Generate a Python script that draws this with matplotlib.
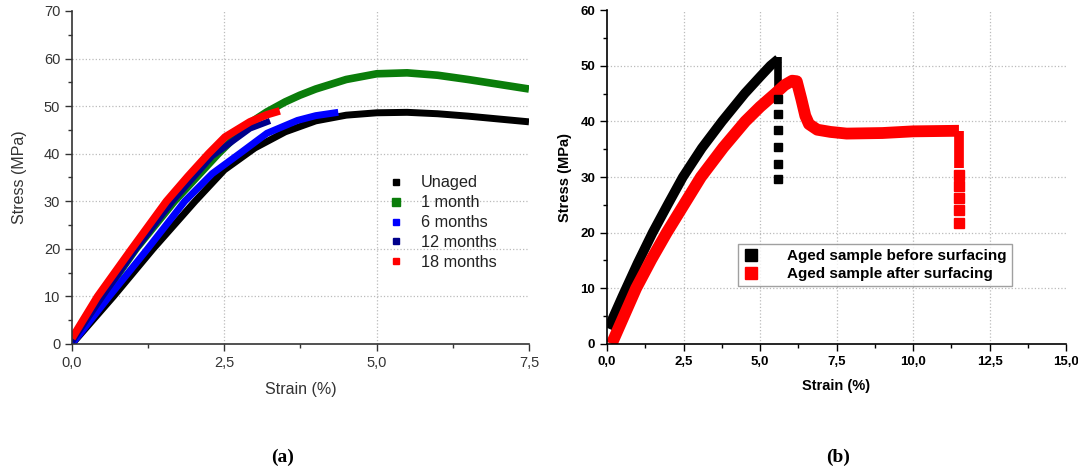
import matplotlib
matplotlib.use('Agg')
import matplotlib.pyplot as pyplot
from matplotlib.lines import Line2D
from matplotlib.ticker import MultipleLocator, FuncFormatter

pyplot.rcParams['font.family'] = ['Liberation Sans', 'DejaVu Sans']

# ---- panel (a): stress-strain curves at different ageing times
unaged_x = [0, 0.68, 1.33, 2.02, 2.5, 3.0, 3.5, 4.0, 4.5, 5.0, 5.5, 6.0, 6.5, 7.0, 7.5]
unaged_y = [0, 10, 20, 30, 36.6, 41.2, 44.6, 46.9, 48.1, 48.6, 48.7, 48.4, 47.9, 47.3, 46.7]

month1_x = [0, 0.5, 1.05, 1.68, 2.4, 2.9, 3.2, 3.5, 3.74, 4.0, 4.5, 5.0, 5.5, 6.0, 6.5, 7.0, 7.5]
month1_y = [0.5, 10, 20, 30, 40, 46.3, 48.8, 50.9, 52.3, 53.6, 55.6, 56.8, 57.0, 56.5, 55.6, 54.6, 53.6]

month6_x = [0, 0.61, 1.24, 1.85, 2.3, 2.78, 3.2, 3.7, 4.0, 4.37]
month6_y = [0, 10, 20, 30, 35.8, 40.3, 44.3, 47.0, 48.0, 48.7]

month12_x = [0, 0.5, 1.05, 1.65, 2.3, 2.92, 3.25]
month12_y = [0.5, 10, 20, 30, 39.5, 45.3, 46.9]

month18_x = [0, 0.42, 0.98, 1.55, 1.9, 2.24, 2.51, 2.92, 3.2, 3.41]
month18_y = [1.2, 10, 20, 30, 35.2, 40, 43.5, 46.7, 48.2, 49.0]

labels_a = ['Unaged', '1 month', '6 months', '12 months', '18 months']
colors_a = ['black', '#0a7d0a', '#0000ff', '#00008b', '#ff0000']

# ---- panel (b): aged sample before / after surfacing
before_x = [0.04, 0.5, 1.0, 1.49, 2.0, 2.48, 3.1, 3.76, 4.5, 5.0, 5.34, 5.6]
before_y = [2.8, 8.5, 14.5, 20, 25.2, 30, 35.2, 40, 45.0, 48.0, 50, 51.2]
before_drop_y = [51.6, 49.5, 47.5, 45.6]
before_sq_y = [44.1, 41.4, 38.4, 35.4, 32.4, 29.6]
before_sq_x = 5.6

after_x = [0.15, 0.55, 0.95, 1.45, 1.95, 3.07, 3.8, 4.52, 5.0, 5.5, 5.8, 6.05, 6.2, 6.35,
           6.48, 6.6, 6.87, 7.3, 7.83, 9.0, 10.0, 11.43, 11.5]
after_y = [0, 5, 10, 15.2, 20, 30, 35.3, 40, 42.6, 45.0, 46.5, 47.3, 47.2, 44.0,
           41.0, 39.5, 38.5, 38.1, 37.8, 37.9, 38.2, 38.3, 38.3]
after_drop_y = [38.3, 35.0, 31.6]
after_sq_y = [30.3, 28.4, 26.2, 24.1, 21.8]
after_sq_x = 11.5

labels_b = ['Aged sample before surfacing', 'Aged sample after surfacing']

xticks_a = [0, 2.5, 5.0, 7.5]
yticks_a = [0, 10, 20, 30, 40, 50, 60, 70]
xticks_b = [0, 2.5, 5.0, 7.5, 10.0, 12.5, 15.0]
yticks_b = [0, 10, 20, 30, 40, 50, 60]


def comma_fmt(v, pos):
    return f"{v:.1f}".replace('.', ',')


def style_axes(ax, xt, yt, col):
    ax.set_xlim(xt[0], xt[-1])
    ax.set_ylim(yt[0], yt[-1])
    ax.set_xticks(xt)
    ax.set_yticks(yt)
    ax.xaxis.set_minor_locator(MultipleLocator((xt[1] - xt[0]) / 2))
    ax.yaxis.set_minor_locator(MultipleLocator((yt[1] - yt[0]) / 2))
    ax.xaxis.set_major_formatter(FuncFormatter(comma_fmt))
    for s in ['top', 'right']:
        ax.spines[s].set_visible(False)
    for s in ['left', 'bottom']:
        ax.spines[s].set_color(col)
        ax.spines[s].set_linewidth(1.2)
    ax.tick_params(which='major', direction='out', length=5, width=1.0, colors=col)
    ax.tick_params(which='minor', direction='out', length=3, width=1.0, colors=col)
    # dotted grid, only inside the frame (no line on the top / right edge)
    for v in xt[1:-1]:
        ax.axvline(v, ls=':', color='#bbbbbb', lw=0.9, zorder=0)
    for v in yt[1:-1]:
        ax.axhline(v, ls=':', color='#bbbbbb', lw=0.9, zorder=0)


def main():
    fig = pyplot.figure(figsize=(10.78, 4.72), dpi=100)

    # ---------------- (a)
    ax = fig.add_axes([0.0668, 0.2712, 0.4239, 0.7055])
    style_axes(ax, xticks_a, yticks_a, '#333333')
    curves = [(unaged_x, unaged_y, 5.0), (month1_x, month1_y, 5.5),
              (month6_x, month6_y, 5.0), (month12_x, month12_y, 4.5),
              (month18_x, month18_y, 5.5)]
    for (x, y, lw), c in zip(curves, colors_a):
        ax.plot(x, y, color=c, lw=lw, solid_capstyle='butt', solid_joinstyle='round')
    for lab in ax.get_xticklabels() + ax.get_yticklabels():
        lab.set_fontsize(10.5)
        lab.set_color('#333333')
    ax.set_xlabel('Strain (%)', fontsize=11.5, color='#333333', labelpad=9)
    ax.set_ylabel('Stress (MPa)', fontsize=11.5, color='#333333', labelpad=12)
    msize = [4, 6, 4, 4, 4]
    handles = [Line2D([], [], ls='none', marker='s', color=c, markersize=m)
               for c, m in zip(colors_a, msize)]
    ax.legend(handles, labels_a, loc='upper left', bbox_to_anchor=(0.66, 0.55),
              frameon=False, fontsize=11.7, handlelength=1.0, handletextpad=1.0,
              labelspacing=0.3, labelcolor='#222222')

    # ---------------- (b)
    ax2 = fig.add_axes([0.5631, 0.2712, 0.4258, 0.7076])
    style_axes(ax2, xticks_b, yticks_b, 'black')
    ax2.plot(before_x, before_y, color='black', lw=7.0, solid_capstyle='butt',
             solid_joinstyle='round')
    ax2.plot([before_sq_x] * len(before_drop_y), before_drop_y, color='black', lw=5.5,
             solid_capstyle='butt')
    ax2.plot(after_x, after_y, color='#ff0000', lw=8.5, solid_capstyle='butt',
             solid_joinstyle='round')
    ax2.plot([after_sq_x] * len(after_drop_y), after_drop_y, color='#ff0000', lw=7.0,
             solid_capstyle='butt')
    ax2.plot([before_sq_x] * len(before_sq_y), before_sq_y, ls='none', marker='s',
             color='black', markersize=5.5)
    ax2.plot([after_sq_x] * len(after_sq_y), after_sq_y, ls='none', marker='s',
             color='#ff0000', markersize=7, markeredgecolor='#ff0000')
    for lab in ax2.get_xticklabels() + ax2.get_yticklabels():
        lab.set_fontsize(9.5)
        lab.set_fontweight('bold')
    ax2.set_xlabel('Strain (%)', fontsize=10.5, fontweight='bold', labelpad=8)
    ax2.set_ylabel('Stress (MPa)', fontsize=10.5, fontweight='bold', labelpad=6)
    handles2 = [Line2D([], [], ls='none', marker='s', color=c, markersize=9)
                for c in ['black', '#ff0000']]
    leg = ax2.legend(handles2, labels_b, loc='upper left', bbox_to_anchor=(0.285, 0.30),
                     borderaxespad=0, frameon=True, fancybox=False,
                     prop={'weight': 'bold', 'size': 11}, handlelength=1.0,
                     handletextpad=1.9, labelspacing=0.25, borderpad=0.35)
    leg.get_frame().set_edgecolor('#888888')
    leg.get_frame().set_linewidth(1.0)

    fig.text(283 / 1078, 1 - 457 / 472, '(a)', ha='center', va='center',
             family='Liberation Serif', fontweight='bold', fontsize=14)
    fig.text(838 / 1078, 1 - 457 / 472, '(b)', ha='center', va='center',
             family='Liberation Serif', fontweight='bold', fontsize=14)

    pyplot.savefig('out.png', dpi=100)


if __name__ == "__main__":
    main()
